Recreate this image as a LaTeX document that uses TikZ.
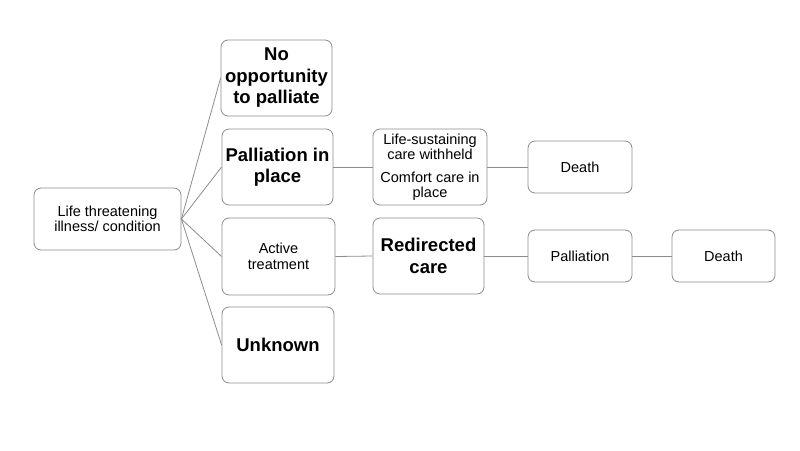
\documentclass[tikz,border=0pt]{standalone}
\usepackage{fontspec}
\setmainfont{Liberation Sans}
\begin{document}
\begin{tikzpicture}[x=1pt,y=-1pt,
  box/.style={draw=black!45, line width=0.8pt, rounded corners=7pt, fill=white, align=center, inner sep=0pt},
  reg/.style={font=\fontsize{14.5}{15.5}\selectfont},
  big/.style={font=\fontsize{18.5}{21.5}\selectfont\bfseries},
  link/.style={draw=black!45, line width=0.8pt}]
\useasboundingbox (0,0) rectangle (800,450);
\node[box,reg,minimum width=147pt,minimum height=62pt] (root) at (107.5,219) {Life threatening\\illness/ condition};
\node[box,big,minimum width=111pt,minimum height=76pt] (noop) at (276.5,78) {No\\opportunity\\to palliate};
\node[box,big,minimum width=111pt,minimum height=76pt] (pip) at (277.5,167) {Palliation in\\place};
\node[box,reg,minimum width=113pt,minimum height=77pt] (act) at (278.5,256.5) {Active\\treatment};
\node[box,big,minimum width=112pt,minimum height=76pt] (unk) at (278,345) {Unknown};
\node[box,reg,minimum width=114pt,minimum height=76pt] (lsc) at (430,167) {Life-sustaining\\care withheld\\[7pt]Comfort care in\\place};
\node[box,reg,minimum width=104pt,minimum height=52pt] (d1) at (580,167) {Death};
\node[box,big,minimum width=111pt,minimum height=76pt] (red) at (428.5,256) {Redirected\\care};
\node[box,reg,minimum width=104pt,minimum height=52pt] (pal) at (580,256) {Palliation};
\node[box,reg,minimum width=103pt,minimum height=52pt] (d2) at (723.5,256) {Death};
\draw[link] (root.east) -- (noop.west);
\draw[link] (root.east) -- (pip.west);
\draw[link] (root.east) -- (act.west);
\draw[link] (root.east) -- (unk.west);
\draw[link] (pip.east) -- (lsc.west);
\draw[link] (lsc.east) -- (d1.west);
\draw[link] (act.east) -- (red.west);
\draw[link] (red.east) -- (pal.west);
\draw[link] (pal.east) -- (d2.west);
\end{tikzpicture}
\end{document}
